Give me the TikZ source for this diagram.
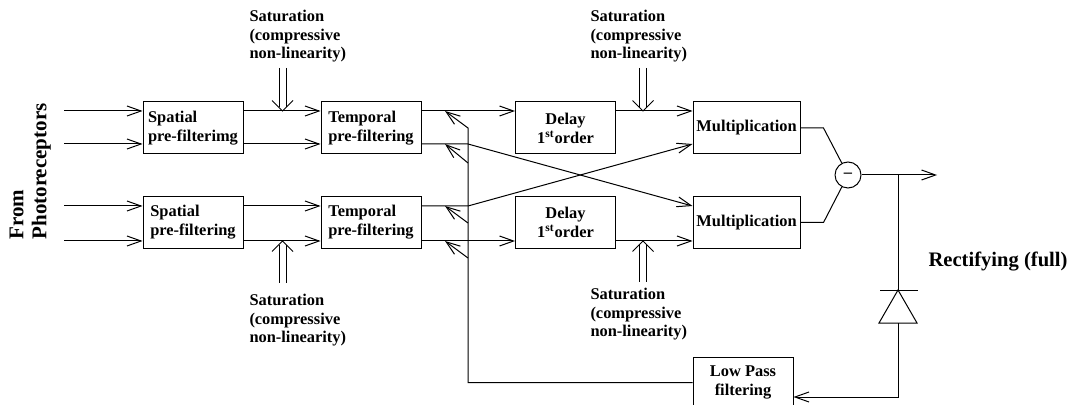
\documentclass[tikz,border=0pt]{standalone}
\usepackage{fontspec}
\setmainfont{Liberation Serif}
\usetikzlibrary{arrows.meta}

\tikzset{
  blk/.style={draw, minimum width=50pt, minimum height=26pt, inner sep=1pt,
    align=center, font=\bfseries\fontsize{8.2}{9.5}\selectfont},
  lblk/.style={blk, align=left},
  note/.style={inner sep=0pt, align=left, anchor=north west,
    font=\bfseries\fontsize{8.2}{9.1}\selectfont},
  sig/.style={-{Straight Barb[length=7pt,width=5pt]}},
}

\begin{document}
\begin{tikzpicture}[x=0.5pt, y=-0.5pt, line width=0.5pt]
  \useasboundingbox (0,0) rectangle (1069,405);

  % boxes
  \node[lblk] (sp1) at (193,128) {Spatial\\pre-filterimg};
  \node[lblk] (sp2) at (193,222.5) {Spatial\\pre-filtering};
  \node[lblk] (tp1) at (371,128) {Temporal\\pre-filtering};
  \node[lblk] (tp2) at (371,222.5) {Temporal\\pre-filtering};
  \node[blk] (dl1) at (565.5,128) {Delay\\1\textsuperscript{st}order};
  \node[blk] (dl2) at (565.5,222.5) {Delay\\1\textsuperscript{st}order};
  \node[blk, minimum width=53.5pt] (mu1) at (746.5,128) {Multiplication};
  \node[blk, minimum width=53.5pt] (mu2) at (746.5,222.5) {Multiplication};
  \node[blk, minimum height=25.5pt] (lp) at (743,382.5) {Low Pass\\filtering};
  \node[draw, circle, minimum size=13pt, inner sep=0pt,
    font=\bfseries\fontsize{8.2}{9.5}\selectfont] (sub) at (848,175) {--};

  % labels
  \node[rotate=90, anchor=north west, inner sep=0pt, align=left,
    font=\bfseries\fontsize{10.5}{11.5}\selectfont] (src) at (9,240) {From\\Photoreceptors};
  \node[anchor=base west, inner sep=0pt,
    font=\bfseries\fontsize{10.3}{12}\selectfont] (rect) at (928,267) {Rectifying (full)};
  \node[note] (sat1) at (249,10) {Saturation\\(compressive\\non-linearity)};
  \node[note] (sat2) at (590,10) {Saturation\\(compressive\\non-linearity)};
  \node[note] (sat3) at (249,294) {Saturation\\(compressive\\non-linearity)};
  \node[note] (sat4) at (590,288) {Saturation\\(compressive\\non-linearity)};

  % inputs
  \coordinate (in1) at (64,111);
  \coordinate (in2) at (64,144);
  \coordinate (in3) at (64,206);
  \coordinate (in4) at (64,241);
  \draw[sig] (in1) -- (sp1.west |- in1);
  \draw[sig] (in2) -- (sp1.west |- in2);
  \draw[sig] (in3) -- (sp2.west |- in3);
  \draw[sig] (in4) -- (sp2.west |- in4);

  % forward paths
  \draw[sig] (sp1.east |- in1) -- (tp1.west |- in1);
  \draw[sig] (sp1.east |- in2) -- (tp1.west |- in2);
  \draw[sig] (sp2.east |- in3) -- (tp2.west |- in3);
  \draw[sig] (sp2.east |- in4) -- (tp2.west |- in4);
  \draw[sig] (tp1.east |- in1) -- (dl1.west |- in1);
  \draw[sig] (tp2.east |- in4) -- (dl2.west |- in4);
  \draw[sig] (dl1.east |- in1) -- (mu1.west |- in1);
  \draw[sig] (dl2.east |- in4) -- (mu2.west |- in4);

  % crossing paths
  \coordinate (x1) at (468,144);
  \coordinate (x2) at (468,206);
  \draw[sig] (tp1.east |- in2) -- (x1) -- (mu2.west |- in3);
  \draw[sig] (tp2.east |- in3) -- (x2) -- (mu1.west |- in2);

  % saturation inputs
  \coordinate (s1) at (282.5,111);
  \coordinate (s2) at (643,111);
  \coordinate (s3) at (282.5,241);
  \coordinate (s4) at (643,241);
  \draw (279,68) -- (279,107) (286,68) -- (286,107);
  \draw (272,100.5) -- (s1) -- (293,100.5);
  \draw (639.5,68) -- (639.5,107) (646.5,68) -- (646.5,107);
  \draw (632.5,100.5) -- (s2) -- (653.5,100.5);
  \draw (279,283) -- (279,245) (286,283) -- (286,245);
  \draw (272,251.5) -- (s3) -- (293,251.5);
  \draw (639.5,282) -- (639.5,245) (646.5,282) -- (646.5,245);
  \draw (632.5,251.5) -- (s4) -- (653.5,251.5);

  % subtraction and output
  \draw (mu1.east) -- ++(23,0) -- (sub);
  \draw (mu2.east) -- ++(23,0) -- (sub);
  \coordinate (outp) at (937,175);
  \draw[sig] (sub) -- (outp);

  % rectifier
  \coordinate (jn) at (898,175);
  \coordinate (da) at (898,290);
  \coordinate (db) at (898,323);
  \coordinate (rc) at (898,397);
  \draw (jn) -- (da);
  \draw (da) -- (879,323) -- (917,323) -- cycle;
  \draw (880,291) -- (918,291);
  \draw[sig] (db) -- (rc) -- (rc -| lp.east);

  % feedback to temporal filters
  \coordinate (f1) at (445,111);
  \coordinate (f2) at (445,144);
  \coordinate (f3) at (445,206);
  \coordinate (f4) at (445,241);
  \draw[sig] (lp.west) -| (468,128) -- (f1);
  \draw[sig] (468,163) -- (f2);
  \draw[sig] (468,223) -- (f3);
  \draw[sig] (468,258) -- (f4);
\end{tikzpicture}
\end{document}
